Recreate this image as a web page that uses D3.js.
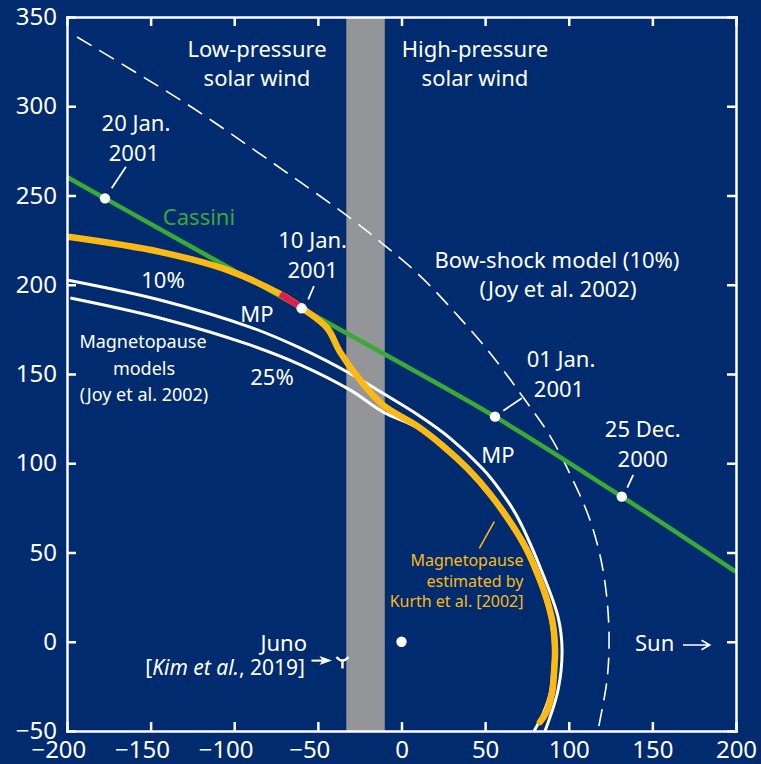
<!DOCTYPE html>
<html>
<head>
<meta charset="utf-8">
<title>Jovian magnetopause, bow shock and the Cassini flyby</title>
<script src="https://cdn.jsdelivr.net/npm/d3@7/dist/d3.min.js"></script>
<style>
  html, body { margin: 0; padding: 0; background: #002b6f; }
  svg { display: block; font-family: "Noto Sans", "DejaVu Sans", sans-serif; }
</style>
</head>
<body>
<svg id="chart" width="761" height="764"></svg>
<script>
// ---- data (Jupiter-centred coordinates, R_J) ----
const xTicks = [-200, -150, -100, -50, 0, 50, 100, 150, 200];
const yTicks = [-50, 0, 50, 100, 150, 200, 250, 300, 350];

// Boundary strip between low- and high-pressure solar wind
const bandX = [-33, -10];

// Cassini trajectory
const cassiniX = [-200, -177.3, -59.7, -11.1, 55.9, 131.7, 200];
const cassiniY = [260.4, 248.4, 186.8, 161.6, 126.1, 81.3, 39.1];

// Dated positions along the trajectory
const dateNames = ["20 Jan.", "10 Jan.", "01 Jan.", "25 Dec."];
const dateYears = ["2001", "2001", "2001", "2000"];
const dateX = [-177.3, -59.7, 55.9, 131.7];
const dateY = [248.4, 186.8, 126.1, 81.3];

// Magnetopause models, Joy et al. (2002): 10% and 25%
const mp10X = [-200, -144.4, -90.6, -60.7, -30.8, -11.1, 9.3, 29.0, 48.7, 58.9, 69.0, 82.8, 93.6, 96.0, 93.6, 85.8];
const mp10Y = [202.7, 191.5, 176.3, 164.6, 150.3, 139.2, 127.4, 114.1, 96.8, 85.0, 70.4, 41.9, 13.9, -4.6, -27.0, -50.0];
const mp25X = [-198, -144.4, -90.6, -60.7, -30.8, -11.1, 9.3, 24.6, 38.9, 52.5, 65.6, 74.4, 81.0, 86.3, 89.8, 91.0, 90.3, 88.9, 84.8, 79.3];
const mp25Y = [192.6, 181.4, 166.3, 155.3, 141.1, 128.8, 120.0, 109.0, 96.7, 82.3, 65.0, 51.0, 37.0, 23.0, 9.2, -4.6, -17.5, -28.7, -39.9, -50.0];

// Magnetopause estimated by Kurth et al. (2002)
const kurthX = [-198.2, -144.4, -104.3, -73.0, -59.6, -44.5, -36.8, -24.8, -11.1, 9.3, 24.8, 39.2, 52.9, 66.1, 75.0, 81.6, 87.0, 90.6, 91.8, 91.2, 90.0, 86.4, 82.8];
const kurthY = [226.7, 218.4, 208.3, 195.0, 187.0, 175.8, 162.4, 146.6, 132.6, 120.9, 109.7, 97.3, 82.8, 65.5, 51.4, 37.4, 23.4, 9.4, -4.6, -17.5, -28.7, -39.9, -45.0];

// Magnetopause crossing observed on the inbound pass
const crossingX = [-72.5, -60.5];
const crossingY = [194.8, 187.6];

// Bow-shock model (10%), Joy et al. (2002)
const bowX = [-194.0, -159.3, -124.7, -90.6, -60.7, -30.8, -11.1, 9.3, 29.0, 52.9, 72.6, 88.8, 102.5, 112.7, 119.3, 122.9, 124.1, 122.9, 117.5];
const bowY = [338.8, 319.2, 299.0, 277.2, 257.6, 237.5, 222.8, 206.6, 187.5, 161.8, 137.1, 115.3, 90.6, 68.2, 45.8, 23.4, 1.0, -21.3, -49.4];

// Jupiter and the Juno crossing (Kim et al., 2019)
const jupiterPos = [0, 0];
const junoPos = [-35.3, -11.3];

// ---- drawing ----
const W = 761, H = 764;
const BG = "#002b6f", WHITE = "#ffffff", GREEN = "#39aa35", YELLOW = "#fdb913", RED = "#e8194b", GREY = "#939598";
const plot = { left: 67, right: 736, top: 17, bottom: 731 };

const x = d3.scaleLinear().domain([-200, 200]).range([plot.left, plot.right]);
const y = d3.scaleLinear().domain([-50, 350]).range([plot.bottom, plot.top]);

const svg = d3.select("#chart");
svg.append("rect").attr("width", W).attr("height", H).attr("fill", BG);

// strip separating the two solar-wind regimes
svg.append("rect")
  .attr("x", x(bandX[0])).attr("width", x(bandX[1]) - x(bandX[0]))
  .attr("y", y(350)).attr("height", y(-50) - y(350))
  .attr("fill", GREY);

const zip = (xs, ys) => xs.map((v, i) => [v, ys[i]]);
const smooth = d3.line().x(d => x(d[0])).y(d => y(d[1])).curve(d3.curveCatmullRom.alpha(0.5));

// bow shock
svg.append("path").datum(zip(bowX, bowY)).attr("d", smooth)
  .attr("fill", "none").attr("stroke", WHITE).attr("stroke-width", 1.6)
  .attr("stroke-dasharray", "17,9");

// model magnetopauses
[[mp10X, mp10Y], [mp25X, mp25Y]].forEach(([xs, ys]) => {
  svg.append("path").datum(zip(xs, ys)).attr("d", smooth)
    .attr("fill", "none").attr("stroke", WHITE).attr("stroke-width", 3);
});

// Cassini trajectory
svg.append("path").datum(zip(cassiniX, cassiniY)).attr("d", smooth)
  .attr("fill", "none").attr("stroke", GREEN).attr("stroke-width", 4.5);

// Kurth et al. magnetopause
svg.append("path").datum(zip(kurthX, kurthY)).attr("d", smooth)
  .attr("fill", "none").attr("stroke", YELLOW).attr("stroke-width", 6.5)
  .attr("stroke-linecap", "round").attr("stroke-linejoin", "round");

// observed crossing
svg.append("path").datum(zip(crossingX, crossingY)).attr("d", d3.line().x(d => x(d[0])).y(d => y(d[1])))
  .attr("fill", "none").attr("stroke", RED).attr("stroke-width", 6.5);

// ---- axes (box frame, inward ticks) ----
function styleAxis(g) {
  g.attr("font-family", null).attr("font-size", null);
  g.select(".domain").attr("stroke", WHITE).attr("stroke-width", 2.5).attr("stroke-linecap", "square");
  g.selectAll(".tick line").attr("stroke", WHITE).attr("stroke-width", 2.5);
  g.selectAll(".tick text").attr("fill", WHITE).attr("font-size", 24);
}
svg.append("g").attr("transform", `translate(0,${plot.bottom})`)
  .call(d3.axisBottom(x).tickValues(xTicks).tickSizeInner(-9).tickSizeOuter(0).tickPadding(10))
  .call(styleAxis)
  .call(g => g.selectAll(".tick text").filter(d => d < 0).attr("dx", "-0.36em"));
svg.append("g").attr("transform", `translate(${plot.left},0)`)
  .call(d3.axisLeft(y).tickValues(yTicks).tickSizeInner(-9).tickSizeOuter(0).tickPadding(10))
  .call(styleAxis);
svg.append("g").attr("transform", `translate(0,${plot.top})`)
  .call(d3.axisTop(x).tickValues(xTicks).tickSizeInner(-9).tickSizeOuter(0).tickFormat(""))
  .call(styleAxis);
svg.append("g").attr("transform", `translate(${plot.right},0)`)
  .call(d3.axisRight(y).tickValues(yTicks).tickSizeInner(-9).tickSizeOuter(0).tickFormat(""))
  .call(styleAxis);

// ---- dated positions ----
// label and leader offsets (px) from each dot
const dateLayout = [
  { name: [31, -67], year: [29, -37], lead: [6.7, -10, 21, -31.6] },
  { name: [11, -60], year: [11, -30], lead: [6.6, -9, 12.3, -22.3] },
  { name: [66, -50], year: [64, -20], lead: [8.3, -6, 26.7, -18.4] },
  { name: [21, -60], year: [21, -30], lead: [5.5, -9, 11.5, -21.7] }
];
function text(str, px, py, opts = {}) {
  return svg.append("text").attr("x", px).attr("y", py)
    .attr("text-anchor", opts.anchor || "middle")
    .attr("font-size", opts.size || 22)
    .attr("fill", opts.fill || WHITE)
    .text(str);
}
dateX.forEach((dx, i) => {
  const cx = x(dx), cy = y(dateY[i]), L = dateLayout[i];
  svg.append("line")
    .attr("x1", cx + L.lead[0]).attr("y1", cy + L.lead[1])
    .attr("x2", cx + L.lead[2]).attr("y2", cy + L.lead[3])
    .attr("stroke", WHITE).attr("stroke-width", 1.8);
  svg.append("circle").attr("cx", cx).attr("cy", cy).attr("r", 5.2).attr("fill", WHITE);
  text(dateNames[i], cx + L.name[0], cy + L.name[1]);
  text(dateYears[i], cx + L.year[0], cy + L.year[1]);
});

// Jupiter
svg.append("circle").attr("cx", x(jupiterPos[0])).attr("cy", y(jupiterPos[1])).attr("r", 5.2).attr("fill", WHITE);

// Juno crossing marker
{
  const jx = x(junoPos[0]), jy = y(junoPos[1]);
  svg.append("path")
    .attr("d", `M${jx - 6},${jy - 5} Q${jx},${jy + 2} ${jx + 6},${jy - 5} M${jx},${jy - 0.5} V${jy + 6.5}`)
    .attr("fill", "none").attr("stroke", WHITE).attr("stroke-width", 2.4);
  // arrow pointing at the marker
  svg.append("line").attr("x1", jx - 31).attr("y1", jy - 1.3).attr("x2", jx - 20).attr("y2", jy - 1.3)
    .attr("stroke", WHITE).attr("stroke-width", 2);
  svg.append("path")
    .attr("d", `M${jx - 23},${jy - 5.8} L${jx - 10.5},${jy - 1.3} L${jx - 23},${jy + 3.2} L${jx - 20},${jy - 1.3} Z`)
    .attr("fill", WHITE);
}

// ---- annotations ----
text("Low-pressure", 257, 57);
text("solar wind", 257, 86);
text("High-pressure", 475, 57);
text("solar wind", 475, 86);

text("Cassini", 199, 225, { fill: GREEN });
text("10%", 163, 288);
text("MP", 257, 322);
text("25%", 272, 385);
text("Magnetopause", 143, 348, { size: 18 });
text("models", 144, 375, { size: 18 });
text("(Joy et al. 2002)", 144, 401, { size: 18 });

text("Bow-shock model (10%)", 557, 268);
text("(Joy et al. 2002)", 558, 297);
text("MP", 498, 463);

// Kurth et al. label and leader
svg.append("line").attr("x1", 494.3).attr("y1", 521.7).attr("x2", 479.3).attr("y2", 548.3)
  .attr("stroke", YELLOW).attr("stroke-width", 1.6);
text("Magnetopause", 523.5, 566, { anchor: "end", size: 16, fill: YELLOW });
text("estimated by", 523.5, 586.5, { anchor: "end", size: 16, fill: YELLOW });
text("Kurth et al. [2002]", 523.5, 607, { anchor: "end", size: 16, fill: YELLOW });

text("Juno", 307, 651, { anchor: "end" });
{
  const t = svg.append("text").attr("x", 305).attr("y", 675).attr("text-anchor", "end")
    .attr("font-size", 21).attr("fill", WHITE);
  t.append("tspan").text("[");
  t.append("tspan").attr("font-style", "italic").text("Kim et al.");
  t.append("tspan").text(", 2019]");
}

text("Sun", 635, 651, { anchor: "start" });
svg.append("path").attr("d", "M683,645 H709.5 M701.5,640.3 L709.8,645 L701.5,649.7")
  .attr("fill", "none").attr("stroke", WHITE).attr("stroke-width", 1.6);
</script>
</body>
</html>
